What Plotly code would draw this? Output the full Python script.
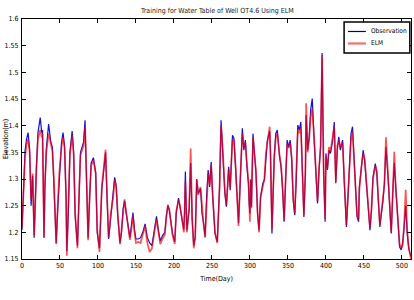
import plotly.graph_objects as go

days = [0,2,4,6,8,10,12,14,15,16,19,21,24,26,27,28,29,30,32,35,38,40,42,45,47,49,52,54,56,58,59,61,63,66,68,70,73,75,77,81,83,85,87,89,91,94,97,99,101,102,105,107,110,112,114,117,120,122,124,126,129,131,133,135,137,140,142,144,146,148,150,153,156,159,162,165,168,171,174,177,180,182,185,188,190,192,194,197,198,201,203,206,208,211,213,214,215,217,220,222,224,226,228,230,232,235,237,239,241,243,245,247,249,251,254,257,260,262,264,267,269,272,274,277,279,281,283,285,287,290,292,294,296,298,299,300,301,302,304,306,308,310,312,314,317,319,321,323,326,327,329,330,332,334,336,339,341,343,345,347,349,351,353,355,357,359,361,363,365,367,369,371,373,374,376,378,380,382,385,387,389,391,393,395,397,399,400,402,404,406,409,411,413,415,417,419,422,424,426,427,430,433,435,437,439,441,443,444,447,449,451,454,456,458,460,462,465,467,469,471,473,475,477,479,482,484,486,488,490,492,495,497,499,501,503,505,507,509,512]

observation = [1.205,1.28,1.353,1.375,1.387,1.356,1.25,1.306,1.2,1.19,1.325,1.387,1.415,1.387,1.392,1.294,1.19,1.275,1.356,1.403,1.369,1.36,1.294,1.18,1.244,1.306,1.369,1.387,1.3625,1.2625,1.165,1.238,1.35,1.39,1.35,1.23,1.175,1.262,1.35,1.369,1.41,1.294,1.19,1.262,1.33,1.34,1.3125,1.2,1.175,1.17,1.28,1.306,1.35,1.262,1.1875,1.231,1.269,1.303,1.2875,1.231,1.18,1.2,1.244,1.259,1.2375,1.206,1.19,1.2125,1.237,1.206,1.1875,1.1875,1.19,1.2,1.216,1.19,1.18,1.175,1.206,1.23,1.2,1.184,1.194,1.2,1.231,1.25,1.242,1.2,1.198,1.182,1.235,1.264,1.248,1.217,1.205,1.239,1.314,1.204,1.242,1.33,1.223,1.175,1.192,1.30,1.273,1.282,1.235,1.217,1.192,1.267,1.317,1.285,1.332,1.267,1.198,1.182,1.285,1.41,1.36,1.273,1.248,1.323,1.279,1.382,1.376,1.323,1.267,1.217,1.285,1.395,1.354,1.373,1.323,1.292,1.254,1.235,1.298,1.248,1.385,1.354,1.31,1.235,1.204,1.267,1.292,1.298,1.342,1.373,1.39,1.354,1.198,1.248,1.342,1.385,1.392,1.342,1.323,1.279,1.22,1.298,1.373,1.36,1.373,1.335,1.26,1.232,1.298,1.401,1.392,1.407,1.31,1.229,1.31,1.42,1.354,1.379,1.43,1.451,1.36,1.298,1.254,1.317,1.36,1.536,1.31,1.22,1.348,1.317,1.354,1.348,1.373,1.407,1.292,1.354,1.379,1.354,1.373,1.298,1.223,1.21,1.292,1.385,1.398,1.329,1.285,1.229,1.22,1.285,1.323,1.354,1.335,1.273,1.229,1.204,1.242,1.304,1.329,1.31,1.26,1.21,1.235,1.257,1.292,1.36,1.298,1.235,1.198,1.273,1.33,1.285,1.223,1.173,1.167,1.18,1.21,1.25,1.198,1.17,1.154]

elm = [1.21,1.29,1.34,1.365,1.375,1.35,1.262,1.31,1.205,1.195,1.318,1.375,1.392,1.378,1.385,1.31,1.19,1.285,1.35,1.385,1.362,1.352,1.30,1.178,1.25,1.31,1.36,1.378,1.358,1.27,1.156,1.242,1.342,1.382,1.345,1.235,1.17,1.268,1.345,1.362,1.398,1.30,1.185,1.268,1.325,1.335,1.31,1.205,1.172,1.163,1.285,1.31,1.355,1.268,1.19,1.236,1.265,1.298,1.285,1.235,1.178,1.205,1.24,1.262,1.24,1.2,1.186,1.205,1.232,1.2,1.18,1.182,1.18,1.196,1.212,1.18,1.163,1.17,1.2,1.225,1.196,1.178,1.188,1.196,1.228,1.252,1.24,1.205,1.196,1.178,1.24,1.26,1.25,1.22,1.2,1.238,1.295,1.2,1.246,1.357,1.228,1.17,1.19,1.298,1.27,1.285,1.24,1.215,1.19,1.262,1.31,1.29,1.326,1.27,1.2,1.18,1.28,1.40,1.362,1.278,1.25,1.318,1.284,1.374,1.372,1.328,1.27,1.212,1.29,1.386,1.36,1.368,1.33,1.295,1.26,1.22,1.3,1.245,1.378,1.35,1.315,1.24,1.2,1.265,1.29,1.3,1.348,1.37,1.398,1.35,1.205,1.252,1.338,1.376,1.386,1.345,1.325,1.285,1.222,1.3,1.365,1.358,1.368,1.34,1.262,1.235,1.3,1.392,1.386,1.398,1.315,1.232,1.315,1.442,1.35,1.375,1.418,1.432,1.365,1.302,1.258,1.32,1.362,1.532,1.315,1.225,1.342,1.32,1.36,1.352,1.378,1.398,1.295,1.362,1.372,1.36,1.368,1.3,1.226,1.214,1.296,1.372,1.39,1.335,1.29,1.232,1.225,1.28,1.325,1.348,1.338,1.278,1.232,1.208,1.245,1.3,1.325,1.315,1.262,1.214,1.238,1.26,1.29,1.378,1.295,1.238,1.2,1.275,1.351,1.28,1.226,1.178,1.17,1.175,1.215,1.28,1.205,1.172,1.15]

x_ticks = [0,50,100,150,200,250,300,350,400,450,500]
y_ticks = [1.15,1.2,1.25,1.3,1.35,1.4,1.45,1.5,1.55,1.6]
y_labels = ["1.15","1.2","1.25","1.3","1.35","1.4","1.45","1.5","1.55","1.6"]
series_names = ["Observation", "ELM"]

FONT = "Liberation Sans Narrow, Arial Narrow, DejaVu Sans Condensed, Liberation Sans, sans-serif"
OBS_COLOR = "#1010d8"
ELM_COLOR = "rgba(255,0,0,0.68)"

fig = go.Figure()
fig.add_trace(go.Scatter(x=days, y=observation, mode="lines", name=series_names[0],
                         line=dict(color=OBS_COLOR, width=1.2), showlegend=False))
fig.add_trace(go.Scatter(x=days, y=elm, mode="lines", name=series_names[1],
                         line=dict(color=ELM_COLOR, width=1.7), showlegend=False))

# compact MATLAB-style legend box (paper coordinates)
shapes = [
    dict(type="rect", xref="paper", yref="paper", x0=0.828, x1=0.997, y0=0.858, y1=0.9875,
         line=dict(color="black", width=1.5), fillcolor="white", layer="above"),
    dict(type="line", xref="paper", yref="paper", x0=0.838, x1=0.884, y0=0.948, y1=0.948,
         line=dict(color="#00008b", width=1.2), layer="above"),
    dict(type="line", xref="paper", yref="paper", x0=0.838, x1=0.884, y0=0.898, y1=0.898,
         line=dict(color="#f07070", width=2.2), layer="above"),
]
annotations = [
    dict(text=series_names[0], xref="paper", yref="paper", x=0.891, y=0.948,
         xanchor="left", yanchor="middle", showarrow=False, font=dict(size=6.5, family=FONT)),
    dict(text=series_names[1], xref="paper", yref="paper", x=0.891, y=0.898,
         xanchor="left", yanchor="middle", showarrow=False, font=dict(size=6.5, family=FONT)),
    dict(text="Elevation(m)", xref="paper", yref="paper", x=-0.041, y=0.5,
         xanchor="center", yanchor="middle", textangle=-90, showarrow=False,
         font=dict(size=7, family=FONT)),
]

fig.update_layout(
    width=414, height=300,
    margin=dict(l=22, r=3, t=19, b=41),
    paper_bgcolor="white", plot_bgcolor="white",
    font=dict(family=FONT, size=7, color="black"),
    title=dict(text="Training for Water Table of Well OT4.6 Using ELM",
               x=0.525, xanchor="center", y=0.965, yanchor="middle",
               font=dict(size=7, family=FONT, color="#222")),
    shapes=shapes, annotations=annotations,
    showlegend=False,
)
fig.update_xaxes(range=[0, 512], tickvals=x_ticks, ticktext=[str(v) for v in x_ticks],
                 ticks="inside", ticklen=4, tickcolor="black", showline=True,
                 linecolor="black", linewidth=1, mirror="ticks", showgrid=False,
                 zeroline=False, tickfont=dict(size=7), automargin=False,
                 title=dict(text="Time(Day)", standoff=6, font=dict(size=7)))
fig.update_yaxes(range=[1.15, 1.6], tickvals=y_ticks, ticktext=y_labels,
                 ticks="inside", ticklen=4, tickcolor="black", showline=True,
                 linecolor="black", linewidth=1, mirror="ticks", showgrid=False,
                 zeroline=False, tickfont=dict(size=7), automargin=False,
                 ticklabelstandoff=1)

fig.write_html("out.html")
